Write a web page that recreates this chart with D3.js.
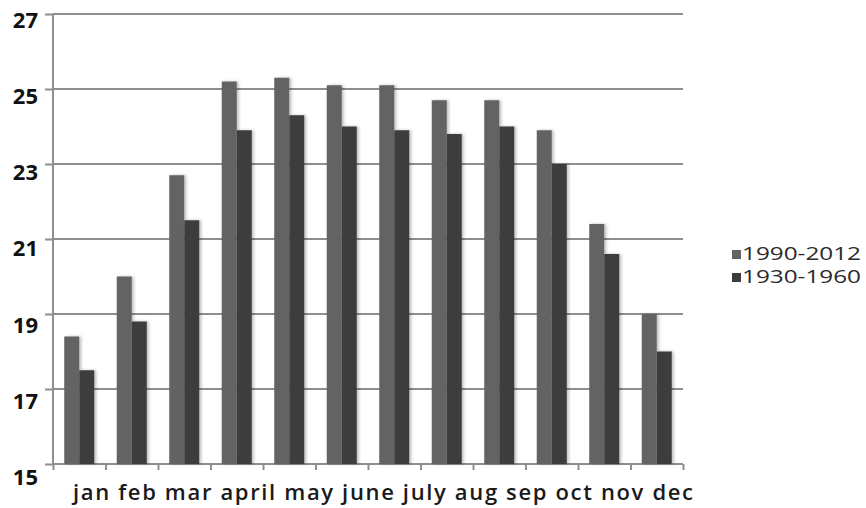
<!DOCTYPE html>
<html>
<head>
<meta charset="utf-8">
<script src="https://cdn.jsdelivr.net/npm/d3@7"></script>
<style>
  body { margin: 0; background: #fff; }
  svg { display: block; }
</style>
</head>
<body>
<svg id="chart" width="866" height="508"></svg>
<script>
// data
const months = ["jan", "feb", "mar", "april", "may", "june", "july", "aug", "sep", "oct", "nov", "dec"];
const seriesNames = ["1990-2012", "1930-1960"];
const recent = [18.4, 20.0, 22.7, 25.2, 25.3, 25.1, 25.1, 24.7, 24.7, 23.9, 21.4, 19.0];
const older  = [17.5, 18.8, 21.5, 23.9, 24.3, 24.0, 23.9, 23.8, 24.0, 23.0, 20.6, 18.0];
const yTicks = [15, 17, 19, 21, 23, 25, 27];

const colors = ["#636363", "#3d3d3d"];
const gridColor = "#8e8e8e";

let svg = d3.select("#chart");
let plot = { left: 53, right: 683, top: 14, bottom: 464 };

let x = d3.scaleBand().domain(months).range([plot.left, plot.right]).paddingInner(0).paddingOuter(0);
let xSub = d3.scaleBand().domain(seriesNames).range([0, x.bandwidth()]).paddingInner(0).paddingOuter(0.75);
let y = d3.scaleLinear().domain([15, 27]).range([plot.bottom, plot.top]);
// labels in the picture sit a little under their gridlines
let yLabel = d3.scaleLinear().domain([15, 27]).range([plot.bottom + 13, plot.top + 6]);

let defs = svg.append("defs");
let f = defs.append("filter").attr("id", "shadow").attr("x", "-20%").attr("y", "-5%").attr("width", "150%").attr("height", "110%");
f.append("feDropShadow").attr("dx", 2).attr("dy", 0).attr("stdDeviation", 1.5)
  .attr("flood-color", "#000").attr("flood-opacity", 0.25);

// gridlines + y axis
let yAxis = svg.append("g")
  .attr("transform", "translate(" + plot.left + ",0)")
  .call(d3.axisLeft(y).tickValues(yTicks).tickSize(8).tickFormat(""));
yAxis.select(".domain").attr("stroke", gridColor).attr("stroke-width", 2)
  .attr("d", "M0," + plot.top + "V" + plot.bottom);
yAxis.selectAll(".tick line").attr("stroke", gridColor).attr("stroke-width", 2);

svg.append("g").selectAll("line")
  .data(yTicks)
  .join("line")
  .attr("x1", plot.left).attr("x2", plot.right)
  .attr("y1", d => y(d)).attr("y2", d => y(d))
  .attr("stroke", gridColor).attr("stroke-width", 2);

svg.append("g").selectAll("text")
  .data(yTicks)
  .join("text")
  .attr("x", 38)
  .attr("y", d => yLabel(d))
  .attr("dy", "0.36em")
  .attr("text-anchor", "end")
  .attr("fill", "#111")
  .style("font", "700 22px 'Open Sans'")
  .text(d => d);

// x tick marks at the band edges
let xEdges = d3.scaleLinear().domain([0, months.length]).range([plot.left, plot.right]);
let xAxis = svg.append("g")
  .attr("transform", "translate(0," + plot.bottom + ")")
  .call(d3.axisBottom(xEdges).tickValues(d3.range(months.length + 1)).tickSize(6).tickFormat(""));
xAxis.select(".domain").remove();
xAxis.selectAll(".tick line").attr("stroke", gridColor).attr("stroke-width", 2);

// bars
let rows = months.map((m, i) => ({ month: m, values: [recent[i], older[i]] }));
let groups = svg.append("g").selectAll("g")
  .data(rows)
  .join("g")
  .attr("transform", d => "translate(" + x(d.month) + ",0)");

groups.selectAll("rect")
  .data(d => d.values.map((v, k) => ({ key: seriesNames[k], value: v, k: k })))
  .join("rect")
  .attr("x", d => xSub(d.key))
  .attr("width", xSub.bandwidth())
  .attr("y", d => y(d.value))
  .attr("height", d => y(15) - y(d.value))
  .attr("fill", d => colors[d.k])
  .attr("filter", "url(#shadow)");

// month labels, set as one line of text like in the picture
let monthLine = svg.append("text")
  .attr("x", 73)
  .attr("y", 500)
  .attr("fill", "#1a1a1a")
  .attr("textLength", 620)
  .attr("lengthAdjust", "spacing")
  .style("font", "600 22px 'Open Sans'");
monthLine.selectAll("tspan")
  .data(months)
  .join("tspan")
  .text((d, i) => (i > 0 ? " " : "") + d);

// legend
let legend = svg.append("g").selectAll("g")
  .data(seriesNames)
  .join("g")
  .attr("transform", (d, i) => "translate(732," + (250 + i * 23) + ")");
legend.append("rect")
  .attr("width", 9).attr("height", 9)
  .attr("fill", (d, i) => colors[i]);
legend.append("text")
  .attr("x", 10)
  .attr("y", 9.5)
  .attr("fill", "#2a2a2a")
  .attr("textLength", 119)
  .attr("lengthAdjust", "spacingAndGlyphs")
  .style("font", "400 18px 'Open Sans'")
  .text(d => d);
</script>
</body>
</html>
